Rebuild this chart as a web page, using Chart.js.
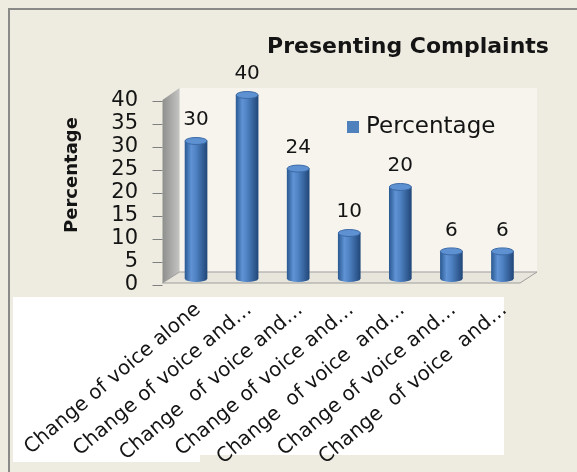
<!DOCTYPE html>
<html>
<head>
<meta charset="utf-8">
<title>Presenting Complaints</title>
<script src="https://cdn.jsdelivr.net/npm/chart.js@4/dist/chart.umd.min.js"></script>
<style>
    html, body {margin: 0; padding: 0; background: #eeece1;}
    #wrap {width: 577px; height: 472px; position: relative;}
</style>
</head>
<body>
<div id="wrap"><canvas id="chart_complaints" width="577" height="472"></canvas></div>
<script>
'use strict';

const categories = [
    'Change of voice alone',
    'Change of voice and…',
    'Change  of voice and…',
    'Change of voice and…',
    'Change  of voice  and…',
    'Change of voice and…',
    'Change  of voice  and…'
];
const percentage = [30, 40, 24, 10, 20, 6, 6];
const yMin = 0, yMax = 40, yStep = 5;
const chartTitle = 'Presenting Complaints';
const seriesName = 'Percentage';
const axisTitle = 'Percentage';

const FONT = '"DejaVu Sans", sans-serif';
const COLORS = {
    page: '#eeece1',
    frame: '#8a8a88',
    wall: '#f6f4ed',
    floor: '#e8e6dc',
    edge: '#9d9d9b',
    text: '#141414',
    blue: '#4f81bd'
};
const BAR_W = 22;
const LABEL_SHIFT = 6; // front edge of the 3D box sits a bit lower than the bars

function cylinderFill(ctx, x, w) {
    if (!Number.isFinite(x) || !Number.isFinite(w)) return COLORS.blue;
    let g = ctx.createLinearGradient(x - w / 2, 0, x + w / 2, 0);
    g.addColorStop(0, '#2c5b94');
    g.addColorStop(0.28, '#5f93d5');
    g.addColorStop(0.5, '#4e82c3');
    g.addColorStop(1, '#22487a');
    return g;
}

const boxPlugin = {
    id: 'box3d',
    beforeDraw(chart) {
        let {ctx, chartArea: {left: L, right: R, top: T, bottom: B}} = chart;
        ctx.save();
        ctx.fillStyle = COLORS.page;
        ctx.fillRect(0, 0, chart.width, chart.height);
        // frame
        ctx.strokeStyle = COLORS.frame;
        ctx.lineWidth = 2;
        ctx.beginPath();
        ctx.moveTo(9, chart.height);
        ctx.lineTo(9, 9);
        ctx.lineTo(chart.width, 9);
        ctx.stroke();
        // white box behind the category labels
        ctx.fillStyle = '#ffffff';
        ctx.fillRect(13, B + 18, 491, 158);
        ctx.fillRect(13, B + 176, 187, 7);
        // back wall
        ctx.fillStyle = COLORS.wall;
        ctx.fillRect(L + 9, T - 7, R - L, B - T);
        // side wall
        let sg = ctx.createLinearGradient(L - 8, 0, L + 9, 0);
        sg.addColorStop(0, '#8e8e8c');
        sg.addColorStop(1, '#c4c4c2');
        ctx.fillStyle = sg;
        ctx.beginPath();
        ctx.moveTo(L - 8, T + 5);
        ctx.lineTo(L + 9, T - 7);
        ctx.lineTo(L + 9, B - 7);
        ctx.lineTo(L - 8, B + 4);
        ctx.closePath();
        ctx.fill();
        // floor
        ctx.fillStyle = COLORS.floor;
        ctx.strokeStyle = COLORS.edge;
        ctx.lineWidth = 1;
        ctx.beginPath();
        ctx.moveTo(L - 8, B + 4);
        ctx.lineTo(L + 9, B - 7);
        ctx.lineTo(R + 9, B - 7);
        ctx.lineTo(R - 8, B + 4);
        ctx.closePath();
        ctx.fill();
        ctx.stroke();
        // tick marks on the front edge
        let y = chart.scales.y;
        ctx.strokeStyle = '#7f7f7f';
        ctx.beginPath();
        for (let v = yMin; v <= yMax; v += yStep) {
            let py = Math.round(y.getPixelForValue(v) + LABEL_SHIFT) + 0.5;
            ctx.moveTo(L - 18, py);
            ctx.lineTo(L - 8, py);
        }
        ctx.stroke();
        ctx.restore();
    },
    afterDatasetsDraw(chart) {
        let {ctx} = chart;
        let meta = chart.getDatasetMeta(0);
        ctx.save();
        meta.data.forEach((bar, i) => {
            let w = bar.width || BAR_W, rx = w / 2;
            // rounded bottom
            ctx.fillStyle = cylinderFill(ctx, bar.x, w);
            ctx.beginPath();
            ctx.ellipse(bar.x, bar.base, rx, 3, 0, 0, Math.PI);
            ctx.fill();
            // top cap
            ctx.fillStyle = '#5e91d2';
            ctx.strokeStyle = '#3c6aa6';
            ctx.lineWidth = 1;
            ctx.beginPath();
            ctx.ellipse(bar.x, bar.y, rx, 3.5, 0, 0, Math.PI * 2);
            ctx.fill();
            ctx.stroke();
            // value label
            ctx.fillStyle = COLORS.text;
            ctx.font = '20px ' + FONT;
            ctx.textAlign = 'center';
            ctx.textBaseline = 'middle';
            ctx.fillText(String(percentage[i]), bar.x, bar.y - 21);
        });
        ctx.restore();
    },
    afterDraw(chart) {
        let {ctx} = chart;
        ctx.save();
        ctx.fillStyle = COLORS.text;
        // chart title
        ctx.font = 'bold 22px ' + FONT;
        ctx.textAlign = 'center';
        ctx.textBaseline = 'alphabetic';
        ctx.fillText(chartTitle, 408, 53);
        // legend
        ctx.fillStyle = COLORS.blue;
        ctx.fillRect(347, 121, 12, 12);
        ctx.fillStyle = COLORS.text;
        ctx.font = '23px ' + FONT;
        ctx.textAlign = 'left';
        ctx.textBaseline = 'middle';
        ctx.fillText(seriesName, 366, 127);
        // y axis title
        ctx.translate(72, 175);
        ctx.rotate(-Math.PI / 2);
        ctx.font = 'bold 18px ' + FONT;
        ctx.textAlign = 'center';
        ctx.fillText(axisTitle, 0, 0);
        ctx.restore();
    }
};

function renderChart(select) {
    let ctx = document.getElementById(select).getContext('2d');
    return new Chart(ctx, {
        type: 'bar',
        data: {
            labels: categories,
            datasets: [{
                label: seriesName,
                data: percentage,
                barThickness: BAR_W,
                borderWidth: 0,
                backgroundColor: (c) => {
                    let xs = c.chart.scales && c.chart.scales.x;
                    if (!xs || c.dataIndex === undefined) return COLORS.blue;
                    return cylinderFill(c.chart.ctx, xs.getPixelForValue(c.dataIndex), BAR_W);
                }
            }]
        },
        options: {
            responsive: false,
            animation: false,
            events: [],
            layout: {padding: {left: 0, right: 49, top: 95, bottom: 0}},
            plugins: {
                legend: {display: false},
                title: {display: false},
                tooltip: {enabled: false}
            },
            scales: {
                x: {
                    grid: {display: false, drawTicks: false},
                    border: {display: false},
                    ticks: {
                        color: COLORS.text,
                        font: {family: FONT, size: 20},
                        minRotation: 40,
                        maxRotation: 40,
                        autoSkip: false,
                        padding: 19,
                        labelOffset: 2
                    },
                    afterFit(scale) {
                        scale.height = 193;
                        // long rotated labels must not push the plot area around
                        scale.paddingLeft = 0;
                        scale.paddingRight = 0;
                    }
                },
                y: {
                    min: yMin,
                    max: yMax,
                    grid: {display: false, drawTicks: false},
                    border: {display: false},
                    ticks: {
                        stepSize: yStep,
                        autoSkip: false,
                        color: COLORS.text,
                        font: {family: FONT, size: 21},
                        padding: 32.5,
                        labelOffset: LABEL_SHIFT
                    },
                    afterFit(scale) { scale.width = 170.5; }
                }
            }
        },
        plugins: [boxPlugin]
    });
}

renderChart('chart_complaints');
</script>
</body>
</html>
